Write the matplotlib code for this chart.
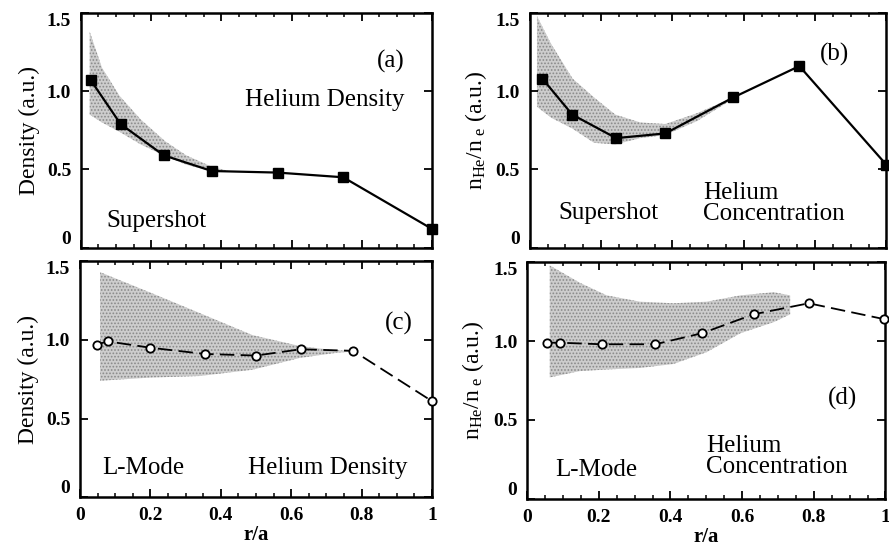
import numpy as np
import matplotlib
matplotlib.use("Agg")
import matplotlib.pyplot as plt
from matplotlib.ticker import MultipleLocator

plt.rcParams['font.family'] = ['Liberation Serif', 'DejaVu Serif']
plt.rcParams['mathtext.fontset'] = 'custom'
plt.rcParams['mathtext.rm'] = 'Liberation Serif'
plt.rcParams['mathtext.it'] = 'Liberation Serif'
plt.rcParams['hatch.linewidth'] = 0.8

# (a) supershot helium density
a_x = [0.028, 0.113, 0.236, 0.373, 0.560, 0.747, 1.0]
a_y = [1.07, 0.79, 0.59, 0.49, 0.48, 0.45, 0.12]
a_band_x = [0.025, 0.06, 0.11, 0.17, 0.24, 0.30, 0.37, 0.42]
a_band_hi = [1.38, 1.15, 0.97, 0.82, 0.68, 0.59, 0.52, 0.49]
a_band_lo = [0.85, 0.80, 0.74, 0.66, 0.585, 0.53, 0.49, 0.485]

# (b) supershot helium concentration
b_x = [0.035, 0.119, 0.242, 0.380, 0.571, 0.756, 1.0]
b_y = [1.08, 0.85, 0.70, 0.73, 0.96, 1.16, 0.53]
b_band_x = [0.02, 0.06, 0.12, 0.18, 0.24, 0.31, 0.38, 0.47, 0.57]
b_band_hi = [1.48, 1.30, 1.08, 0.96, 0.85, 0.80, 0.79, 0.86, 0.96]
b_band_lo = [0.90, 0.83, 0.76, 0.67, 0.66, 0.70, 0.72, 0.81, 0.95]

# (c) L-mode helium density
c_x = [0.047, 0.079, 0.199, 0.355, 0.50, 0.627, 0.776, 1.0]
c_y = [0.97, 0.99, 0.95, 0.91, 0.90, 0.94, 0.93, 0.61]
c_band_x = [0.057, 0.2, 0.34, 0.49, 0.625, 0.72, 0.77]
c_band_hi = [1.43, 1.30, 1.17, 1.03, 0.96, 0.935, 0.93]
c_band_lo = [0.74, 0.76, 0.77, 0.81, 0.885, 0.915, 0.925]

# (d) L-mode helium concentration
d_x = [0.054, 0.091, 0.208, 0.357, 0.488, 0.632, 0.786, 0.995]
d_y = [0.99, 0.99, 0.98, 0.98, 1.05, 1.17, 1.24, 1.14]
d_band_x = [0.063, 0.147, 0.222, 0.315, 0.408, 0.501, 0.595, 0.688, 0.734]
d_band_hi = [1.48, 1.37, 1.29, 1.25, 1.24, 1.25, 1.29, 1.31, 1.29]
d_band_lo = [0.77, 0.81, 0.82, 0.83, 0.855, 0.93, 1.05, 1.12, 1.17]

y_ticks = [0, 0.5, 1.0, 1.5]
y_ticklabels = ['0', '0.5', '1.0', '1.5']
x_ticks = [0, 0.2, 0.4, 0.6, 0.8, 1.0]
x_ticklabels = ['0', '0.2', '0.4', '0.6', '0.8', '1']

fig = plt.figure(figsize=(8.89, 5.58), dpi=100)
ax_a = fig.add_axes([0.091, 0.556, 0.395, 0.421])
ax_b = fig.add_axes([0.596, 0.556, 0.401, 0.421])
ax_c = fig.add_axes([0.090, 0.109, 0.396, 0.423])
ax_d = fig.add_axes([0.593, 0.106, 0.403, 0.424])


def band(ax, x, lo, hi):
    # stippled grey uncertainty region
    ax.fill_between(x, lo, hi, facecolor='#cdcdcd', edgecolor='#8a8a8a',
                    hatch='.....', lw=0, zorder=1)


def style_axis(ax, ylabel, bottom_labels):
    ax.set_xlim(0, 1)
    ax.set_ylim(0, 1.5)
    ax.set_xticks(x_ticks)
    ax.xaxis.set_minor_locator(MultipleLocator(0.05))
    ax.set_yticks(y_ticks)
    ax.set_yticklabels(y_ticklabels, fontsize=14, fontweight='bold')
    labs = ax.get_yticklabels()
    labs[0].set_va('bottom')
    labs[-1].set_va('top')
    if bottom_labels:
        ax.set_xticklabels(x_ticklabels, fontsize=14, fontweight='bold')
        ax.set_xlabel('r/a', fontsize=15, fontweight='bold', labelpad=1)
    else:
        ax.set_xticklabels([])
    ax.tick_params(which='major', direction='in', top=True, right=True, length=6, width=1.3, pad=7)
    ax.tick_params(which='minor', direction='in', top=True, bottom=True, length=3, width=1.1)
    for s in ax.spines.values():
        s.set_linewidth(1.8)
    ax.set_ylabel(ylabel, fontsize=17, labelpad=5)


ratio_label = r'$\mathregular{n_{He}/n_{\ e}}$ (a.u.)'

# (a)
band(ax_a, a_band_x, a_band_lo, a_band_hi)
ax_a.plot(a_x, a_y, color='black', lw=1.6, marker='s', ms=6.5, clip_on=False, zorder=3)
style_axis(ax_a, 'Density (a.u.)', False)
ax_a.text(0.882, 0.793, '(a)', transform=ax_a.transAxes, fontsize=18, ha='center', va='center')
ax_a.text(0.695, 0.63, 'Helium Density', transform=ax_a.transAxes, fontsize=18, ha='center', va='center')
ax_a.text(0.216, 0.112, 'Supershot', transform=ax_a.transAxes, fontsize=18, ha='center', va='center')

# (b)
band(ax_b, b_band_x, b_band_lo, b_band_hi)
ax_b.plot(b_x, b_y, color='black', lw=1.6, marker='s', ms=6.5, clip_on=False, zorder=3)
style_axis(ax_b, ratio_label, False)
ax_b.text(0.854, 0.821, '(b)', transform=ax_b.transAxes, fontsize=18, ha='center', va='center')
ax_b.text(0.485, 0.19, 'Helium\nConcentration', transform=ax_b.transAxes, fontsize=18,
          ha='left', va='center', linespacing=0.95)
ax_b.text(0.22, 0.148, 'Supershot', transform=ax_b.transAxes, fontsize=18, ha='center', va='center')

# (c)
band(ax_c, c_band_x, c_band_lo, c_band_hi)
ax_c.plot(c_x, c_y, color='black', lw=1.3, dashes=(8, 3.5), marker='o', ms=6,
          mfc='white', mec='black', mew=1.3, clip_on=False, zorder=3)
style_axis(ax_c, 'Density (a.u.)', True)
ax_c.text(0.906, 0.736, '(c)', transform=ax_c.transAxes, fontsize=18, ha='center', va='center')
ax_c.text(0.18, 0.122, 'L-Mode', transform=ax_c.transAxes, fontsize=18, ha='center', va='center')
ax_c.text(0.705, 0.122, 'Helium Density', transform=ax_c.transAxes, fontsize=18, ha='center', va='center')

# (d)
band(ax_d, d_band_x, d_band_lo, d_band_hi)
ax_d.plot(d_x, d_y, color='black', lw=1.3, dashes=(8, 3.5), marker='o', ms=6,
          mfc='white', mec='black', mew=1.3, clip_on=False, zorder=3)
style_axis(ax_d, ratio_label, True)
ax_d.text(0.879, 0.425, '(d)', transform=ax_d.transAxes, fontsize=18, ha='center', va='center')
ax_d.text(0.50, 0.178, 'Helium\nConcentration', transform=ax_d.transAxes, fontsize=18,
          ha='left', va='center', linespacing=0.95)
ax_d.text(0.194, 0.122, 'L-Mode', transform=ax_d.transAxes, fontsize=18, ha='center', va='center')

fig.savefig('out.png', dpi=100)
